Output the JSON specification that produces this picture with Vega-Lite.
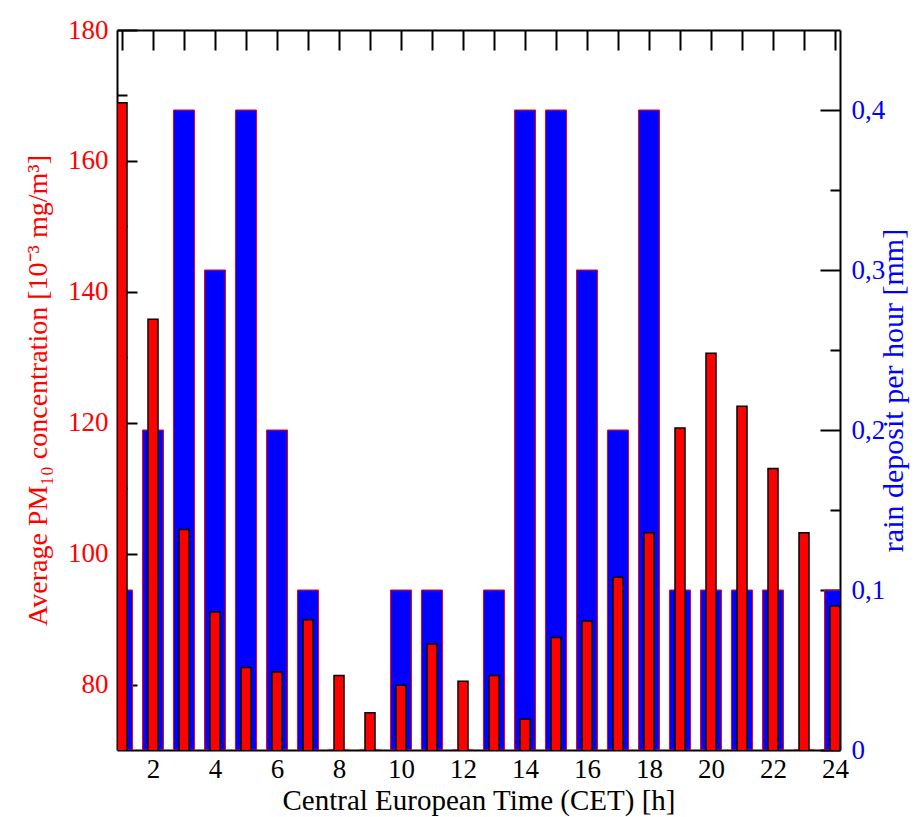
{
 "$schema": "https://vega.github.io/schema/vega-lite/v6.json",
 "width": 723, "height": 720,
 "autosize": "none",
 "padding": {"left": 117, "top": 30, "right": 84, "bottom": 67},
 "background": "white",
 "config": {
  "view": {"stroke": null},
  "axis": {"labelFont": "Liberation Serif", "titleFont": "Liberation Serif", "labelFontSize": 27, "titleFontSize": 28, "titleFontWeight": "normal", "domainColor": "black", "domainWidth": 2, "tickColor": "black", "tickWidth": 2, "grid": false, "zindex": 1, "labelColor": "black", "titleColor": "black"}
 },
 "data": {"values": [
  {"hour": 1, "pm": 168.9, "rain": 0.1},
  {"hour": 2, "pm": 135.8, "rain": 0.2},
  {"hour": 3, "pm": 103.7, "rain": 0.4},
  {"hour": 4, "pm": 91.1, "rain": 0.3},
  {"hour": 5, "pm": 82.6, "rain": 0.4},
  {"hour": 6, "pm": 81.9, "rain": 0.2},
  {"hour": 7, "pm": 89.9, "rain": 0.1},
  {"hour": 8, "pm": 81.4, "rain": 0},
  {"hour": 9, "pm": 75.7, "rain": 0},
  {"hour": 10, "pm": 79.9, "rain": 0.1},
  {"hour": 11, "pm": 86.2, "rain": 0.1},
  {"hour": 12, "pm": 80.5, "rain": 0},
  {"hour": 13, "pm": 81.4, "rain": 0.1},
  {"hour": 14, "pm": 74.7, "rain": 0.4},
  {"hour": 15, "pm": 87.2, "rain": 0.4},
  {"hour": 16, "pm": 89.7, "rain": 0.3},
  {"hour": 17, "pm": 96.4, "rain": 0.2},
  {"hour": 18, "pm": 103.2, "rain": 0.4},
  {"hour": 19, "pm": 119.2, "rain": 0.1},
  {"hour": 20, "pm": 130.6, "rain": 0.1},
  {"hour": 21, "pm": 122.5, "rain": 0.1},
  {"hour": 22, "pm": 113.0, "rain": 0.1},
  {"hour": 23, "pm": 103.2, "rain": 0},
  {"hour": 24, "pm": 92.0, "rain": 0.1}
 ]},
 "layer": [
  {
   "mark": {"type": "bar", "width": 21, "fill": "#0000ff", "stroke": "#ff0000", "strokeWidth": 1, "clip": true},
   "encoding": {
    "x": {"field": "hour", "type": "quantitative", "scale": {"domain": [1, 24], "nice": false, "zero": false},
          "axis": {"orient": "top", "values": [1,2,3,4,5,6,7,8,9,10,11,12,13,14,15,16,17,18,19,20,21,22,23,24], "tickSize": -20, "labels": false, "title": null}},
    "y": {"field": "rain", "type": "quantitative", "scale": {"domain": [0, 0.45], "nice": false, "zero": true},
          "axis": {"orient": "right", "values": [0, 0.1, 0.2, 0.3, 0.4], "tickSize": -20, "labelColor": "#0000ff", "labelExpr": "replace(format(datum.value, '.1~f'), '.', ',')", "labelPadding": 31, "title": "rain deposit per hour [mm]", "titleColor": "#0000ff", "titleAngle": -90, "titlePadding": 24, "titleFontSize": 30}}
   }
  },
  {
   "mark": {"type": "bar", "width": 10, "fill": "#ff0000", "stroke": "black", "strokeWidth": 1.5, "clip": true},
   "encoding": {
    "x": {"field": "hour", "type": "quantitative", "scale": {"domain": [1, 24], "nice": false, "zero": false},
          "axis": {"orient": "bottom", "values": [2,4,6,8,10,12,14,16,18,20,22,24], "tickSize": -20, "labelPadding": 26, "title": "Central European Time (CET) [h]", "titlePadding": 4, "titleFontSize": 29}},
    "y": {"field": "pm", "type": "quantitative", "scale": {"domain": [70, 180], "nice": false, "zero": false},
          "axis": {"orient": "left", "values": [80, 100, 120, 140, 160, 180], "tickSize": -20, "labelColor": "#ff0000", "labelPadding": 29, "title": "Average PM₁₀ concentration [10⁻³ mg/m³]", "titleColor": "#ff0000", "titlePadding": 15}}
   }
  },
  {
   "mark": {"type": "point", "opacity": 0},
   "encoding": {
    "x": {"field": "hour", "type": "quantitative", "scale": {"domain": [1, 24], "nice": false, "zero": false},
          "axis": {"orient": "bottom", "values": [1,3,5,7,9,11,13,15,17,19,21,23], "tickSize": -10, "labels": false, "domain": false, "title": null}},
    "y": {"field": "pm", "type": "quantitative", "scale": {"domain": [70, 180], "nice": false, "zero": false},
          "axis": {"orient": "left", "values": [90, 110, 130, 150, 170], "tickSize": -10, "labels": false, "domain": false, "title": null}}
   }
  },
  {
   "mark": {"type": "point", "opacity": 0},
   "encoding": {
    "x": {"field": "hour", "type": "quantitative", "scale": {"domain": [1, 24], "nice": false, "zero": false}, "axis": null},
    "y": {"field": "rain", "type": "quantitative", "scale": {"domain": [0, 0.45], "nice": false, "zero": true},
          "axis": {"orient": "right", "values": [0.05, 0.15, 0.25, 0.35], "tickSize": -10, "labels": false, "domain": false, "title": null}}
   }
  }
 ],
 "resolve": {"scale": {"y": "independent"}, "axis": {"x": "independent", "y": "independent"}}
}
